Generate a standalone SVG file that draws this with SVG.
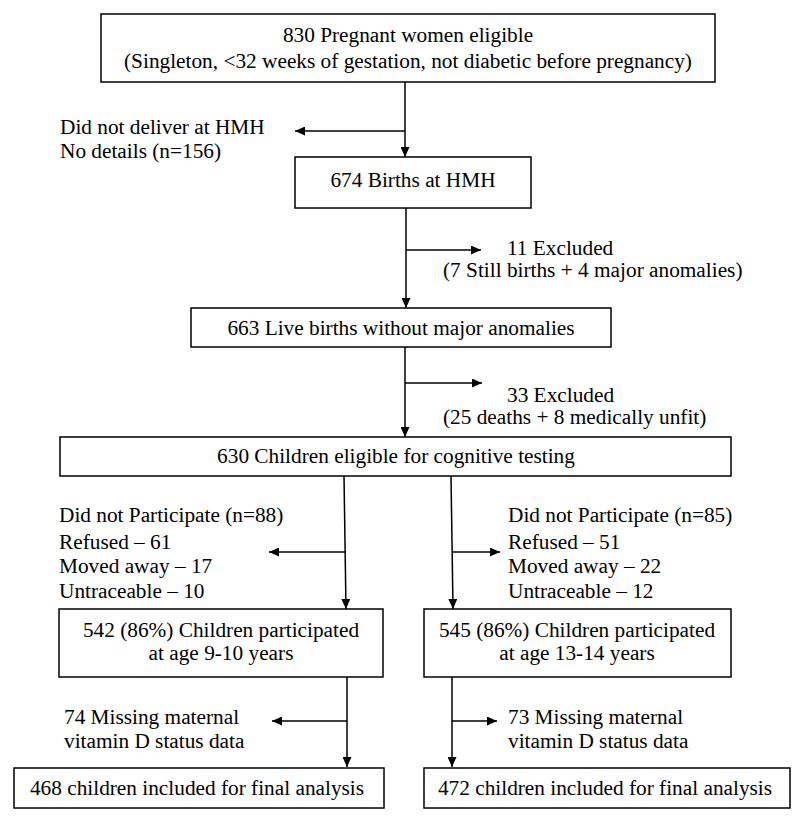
<svg xmlns="http://www.w3.org/2000/svg" width="800" height="823" viewBox="0 0 800 823">
<style>
.box{fill:#fff;stroke:#000;stroke-width:1.5}
.t{font-family:"Liberation Serif","Times New Roman",serif;font-size:21.3px;fill:#000}
.c{text-anchor:middle}
.ln{stroke:#000;stroke-width:1.5;fill:none;marker-end:url(#ah)}
</style>
<defs>
<marker id="ah" viewBox="0 0 10 10" refX="10" refY="5" markerWidth="10" markerHeight="9" markerUnits="userSpaceOnUse" orient="auto" preserveAspectRatio="none"><path d="M0,0 L10,5 L0,10 z" fill="#000"/></marker>
</defs>
<rect width="800" height="823" fill="#fff"/>
<g id="connectors">
<path class="ln" d="M405,82 V157"/>
<path class="ln" d="M405,131 H295"/>
<path class="ln" d="M406,208 V308"/>
<path class="ln" d="M406,250 H481"/>
<path class="ln" d="M405,347 V437"/>
<path class="ln" d="M405,383 H482"/>
<path class="ln" d="M344,476 L346,609"/>
<path class="ln" d="M346,552 H269"/>
<path class="ln" d="M451,476 L453,609"/>
<path class="ln" d="M452,552 H500"/>
<path class="ln" d="M347,677 V767"/>
<path class="ln" d="M347,721 H272"/>
<path class="ln" d="M452,677 V767"/>
<path class="ln" d="M452,721 H497"/>
</g>
<g id="n1"><rect class="box" x="101" y="14" width="614" height="68"/>
<text class="t c" x="408" y="42">830 Pregnant women eligible</text>
<text class="t c" x="408" y="68">(Singleton, &lt;32 weeks of gestation, not diabetic before pregnancy)</text></g>
<g id="side1"><text class="t" x="60" y="134">Did not deliver at HMH</text>
<text class="t" x="60" y="158">No details (n=156)</text></g>
<g id="n2"><rect class="box" x="295" y="157" width="236" height="51"/>
<text class="t c" x="413" y="187">674 Births at HMH</text></g>
<g id="side2"><text class="t" x="507" y="255">11 Excluded</text>
<text class="t" x="443" y="277">(7 Still births + 4 major anomalies)</text></g>
<g id="n3"><rect class="box" x="191" y="308" width="420" height="39"/>
<text class="t c" x="401" y="335">663 Live births without major anomalies</text></g>
<g id="side3"><text class="t" x="507" y="402">33 Excluded</text>
<text class="t" x="443" y="424">(25 deaths + 8 medically unfit)</text></g>
<g id="n4"><rect class="box" x="60" y="437" width="671" height="39"/>
<text class="t c" x="396" y="463">630 Children eligible for cognitive testing</text></g>
<g id="side4"><text class="t" x="59" y="522">Did not Participate (n=88)</text>
<text class="t" x="59" y="549">Refused – 61</text>
<text class="t" x="59" y="573">Moved away – 17</text>
<text class="t" x="59" y="598">Untraceable – 10</text></g>
<g id="side5"><text class="t" x="508" y="522">Did not Participate (n=85)</text>
<text class="t" x="508" y="549">Refused – 51</text>
<text class="t" x="508" y="573">Moved away – 22</text>
<text class="t" x="508" y="598">Untraceable – 12</text></g>
<g id="n5"><rect class="box" x="59" y="609" width="324" height="68"/>
<text class="t c" x="221" y="637">542 (86%) Children participated</text>
<text class="t c" x="221" y="660">at age 9-10 years</text></g>
<g id="n6"><rect class="box" x="424" y="609" width="307" height="68"/>
<text class="t c" x="577" y="637">545 (86%) Children participated</text>
<text class="t c" x="577" y="660">at age 13-14 years</text></g>
<g id="side6"><text class="t" x="64" y="724">74 Missing maternal</text>
<text class="t" x="64" y="748">vitamin D status data</text></g>
<g id="side7"><text class="t" x="508" y="724">73 Missing maternal</text>
<text class="t" x="508" y="748">vitamin D status data</text></g>
<g id="n7"><rect class="box" x="14" y="768" width="370" height="40"/>
<text class="t c" x="197" y="795">468 children included for final analysis</text></g>
<g id="n8"><rect class="box" x="424" y="768" width="366" height="40"/>
<text class="t c" x="605" y="795">472 children included for final analysis</text></g>
</svg>
